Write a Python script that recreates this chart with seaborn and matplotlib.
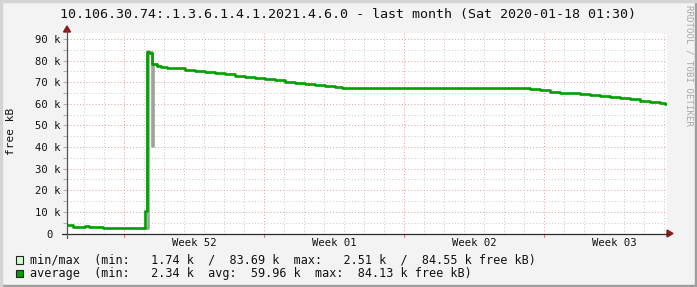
import matplotlib
matplotlib.use("Agg")
import matplotlib.pyplot as plt
from matplotlib.patches import Rectangle, Polygon
from matplotlib.lines import Line2D
import seaborn as sns
import pandas as pd

# ---------------- data (time in days since start of graph, values in k) -------------
avg_days = [0.0, 0.3, 0.55, 0.9, 1.1, 1.4, 1.8, 1.95, 3.9, 3.975, 4.1, 4.225, 4.5, 4.7,
            5.0, 5.4, 5.9, 6.4, 6.9, 7.4, 7.9, 8.4, 8.9, 9.4, 9.9, 10.4, 10.9, 11.4,
            11.9, 12.4, 12.9, 13.4, 13.75, 22.65, 23.15, 23.65, 24.15, 24.65, 25.15,
            25.65, 26.15, 26.65, 27.15, 27.65, 28.15, 28.65, 29.15, 29.65, 29.9, 30.0]
avg_k = [3.8, 3.2, 2.8, 3.5, 3.2, 2.8, 2.5, 2.35, 10.5, 83.9, 83.5, 78.6, 77.6, 77.1,
         76.8, 76.4, 75.8, 75.3, 74.8, 74.3, 73.7, 73.1, 72.6, 72.0, 71.5, 70.9, 70.3, 69.7,
         69.2, 68.7, 68.2, 67.9, 67.5, 67.2, 66.7, 66.2, 65.6, 65.2, 64.8,
         64.5, 64.1, 63.8, 63.2, 62.6, 62.0, 61.3, 60.7, 60.2, 60.0, 60.0]
min_days = [3.8, 4.025, 4.225, 4.25, 4.3, 4.5]
min_k = [2.35, 83.7, 78.6, 40.6, 78.3, 77.6]
max_days = [3.9, 3.975, 4.1, 4.225]
max_k = [10.5, 84.55, 84.0, 78.6]

week_labels = ["Week 52", "Week 01", "Week 02", "Week 03"]
week_centers = [6.35, 13.35, 20.35, 27.35]
ytick_vals = [0, 10, 20, 30, 40, 50, 60, 70, 80, 90]
ytick_labels = ["0 "] + [f"{v} k" for v in ytick_vals[1:]]

title = "10.106.30.74:.1.3.6.1.4.1.2021.4.6.0 - last month (Sat 2020-01-18 01:30)"
legend_rows = ["min/max  (min:   1.74 k  /  83.69 k  max:   2.51 k  /  84.55 k free kB)",
               "average  (min:   2.34 k  avg:  59.96 k  max:  84.13 k free kB)"]

df = pd.concat([
    pd.DataFrame({"day": min_days, "k": min_k, "s": "min"}),
    pd.DataFrame({"day": max_days, "k": max_k, "s": "max"}),
    pd.DataFrame({"day": avg_days, "k": avg_k, "s": "avg"}),
])

# ---------------- figure ----------------
W, H = 697, 287
sns.set_theme(style="white")
plt.rcParams["font.family"] = ["DejaVu Sans Mono"]
BG = "#F3F3F3"
fig = plt.figure(figsize=(W / 100, H / 100), dpi=100, facecolor=BG)

def fx(px):
    return px / W

def fy(py):
    return 1 - py / H

x0, x1, ytop, ybot = 67, 667, 32.5, 233.5
ax = fig.add_axes([fx(x0), fy(ybot), (x1 - x0) / W, (ybot - ytop) / H])
ax.set_facecolor("white")
ax.set_xlim(0, 30)
ax.set_ylim(0, 93)
for s in ax.spines.values():
    s.set_visible(False)

# grid
minor_c, major_c = "#CFCFCF", "#E4A6A6"
major_days = []
for k in range(30):
    d = 0.85 + k
    is_major = abs(((d - 2.85) / 7) - round((d - 2.85) / 7)) < 1e-6
    if is_major:
        major_days.append(d)
    ax.axvline(d, color=major_c if is_major else minor_c, lw=0.75,
               linestyle=(0, (1, 2)), zorder=1)
for v in range(5, 91, 5):
    ax.axhline(v, color=major_c if v % 10 == 0 else minor_c, lw=0.75,
               linestyle=(0, (1, 2)), zorder=1)

# data
sns.lineplot(data=df, x="day", y="k", hue="s", hue_order=["min", "max", "avg"],
             palette={"min": "#A0A0A0", "max": "#A0A0A0", "avg": "#00A000"},
             estimator=None, sort=True, drawstyle="steps-post", lw=1.9,
             legend=False, ax=ax, zorder=3)

ax.set_xlabel("")
ax.set_ylabel("")
ax.set_yticks(ytick_vals)
ax.set_yticklabels(ytick_labels, fontsize=7.6, color="#111111")
ax.set_yticks(list(range(5, 91, 10)), minor=True)
ax.tick_params(axis="y", which="both", length=3, width=0.8, color="#B0B0B0", pad=2,
               left=True)
ax.set_xticks(week_centers)
ax.set_xticklabels(week_labels, fontsize=7.6, color="#111111")
ax.tick_params(axis="x", length=0, pad=3.5)

# small red ticks below axis at major vertical grid lines
for d in major_days:
    px = x0 + d * 20
    fig.add_artist(Line2D([fx(px), fx(px)], [fy(ybot), fy(ybot + 3)], color="#D08080",
                          lw=0.8, transform=fig.transFigure))

# axes lines + arrows
AX = "#2C2C2C"
ARR = "#8B1A1A"
fig.add_artist(Line2D([fx(62), fx(668)], [fy(ybot), fy(ybot)], color=AX, lw=0.9,
                      transform=fig.transFigure))
fig.add_artist(Line2D([fx(x0), fx(x0)], [fy(238), fy(30)], color="#555555", lw=0.9,
                      transform=fig.transFigure))
fig.add_artist(Polygon([[fx(667), fy(ybot - 3.5)], [fx(667), fy(ybot + 3.5)],
                        [fx(673), fy(ybot)]], closed=True, color=ARR,
                       transform=fig.transFigure))
fig.add_artist(Polygon([[fx(x0 - 3.5), fy(32)], [fx(x0 + 3.5), fy(32)],
                        [fx(x0), fy(26)]], closed=True, color=ARR,
                       transform=fig.transFigure))

# texts
fig.text(fx(348), fy(18), title, ha="center", va="baseline", fontsize=9.6, color="#111111")
fig.text(fx(11.5), fy(131.5), "free kB", rotation=90, ha="center", va="center",
         fontsize=8, color="#111111")
fig.text(fx(689), fy(5), "RRDTOOL / TOBI OETIKER", rotation=270, ha="center", va="top",
         fontsize=6.6, color="#A8A8A8")

row_y = [260, 273.3]
sq_colors = ["#CCFFCC", "#00A000"]
for ry, txt, c in zip(row_y, legend_rows, sq_colors):
    fig.add_artist(Rectangle((fx(16), fy(ry + 3.8)), 7 / W, 7.6 / H, facecolor=c,
                             edgecolor="#222222", lw=0.8, transform=fig.transFigure))
    fig.text(fx(30), fy(ry), txt, ha="left", va="center", fontsize=8.5, color="#111111")

# 3D frame
fig.add_artist(Rectangle((0, 0), 1, 2 / H, color="#9E9E9E", transform=fig.transFigure))
fig.add_artist(Rectangle((1 - 2 / W, 0), 2 / W, 1, color="#9E9E9E", transform=fig.transFigure))
fig.add_artist(Rectangle((0, 1 - 2 / H), 1, 2 / H, color="#D4D4D4", transform=fig.transFigure))
fig.add_artist(Rectangle((0, 0), 2 / W, 1, color="#D4D4D4", transform=fig.transFigure))

fig.savefig("out.png", dpi=100, facecolor=BG)
